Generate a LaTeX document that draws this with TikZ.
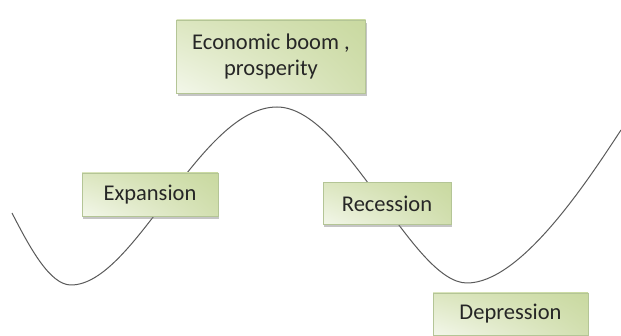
\documentclass[tikz,border=0pt]{standalone}
\usepackage{fontspec}
\setmainfont{Carlito}
\usetikzlibrary{shadows,shadings}
\definecolor{boxUL}{HTML}{DCE6C0}
\definecolor{boxUR}{HTML}{C9D9A0}
\definecolor{boxLL}{HTML}{F3F7EA}
\definecolor{boxLR}{HTML}{D2DFB0}
\definecolor{boxborder}{HTML}{B4C596}
\definecolor{curvec}{HTML}{5A5A5A}
\definecolor{textc}{HTML}{262626}
\tikzset{
  phasebox/.style={draw=boxborder, line width=0.6pt, shade,
    upper left=boxUL, upper right=boxUR, lower left=boxLL, lower right=boxLR,
    drop shadow={shadow xshift=1pt, shadow yshift=-3pt, fill=black!50, opacity=0.45},
    font=\fontsize{22.5}{26}\selectfont, text=textc, align=center, inner sep=0pt},
  cyclecurve/.style={draw=curvec, line width=1pt}
}
\begin{document}
\begin{tikzpicture}[x=1pt,y=-1pt]
\fill[white] (0,0) rectangle (621,336);
\useasboundingbox (0,0) rectangle (621,336);
\clip (0,0) rectangle (621,336);
\path[cyclecurve] (12,213) .. controls (30,248) and (50,285) .. (71,285)
  .. controls (135,285) and (200,107) .. (277,107)
  .. controls (345,107) and (412,283) .. (467,283)
  .. controls (520,283) and (585,185) .. (621,130);
\node[phasebox, minimum width=189pt, minimum height=73pt] (boom) at (271,56.5) {Economic boom ,\\prosperity};
\node[phasebox, minimum width=136pt, minimum height=43pt] (exp) at (150,194.5) {Expansion};
\node[phasebox, minimum width=128pt, minimum height=42pt] (rec) at (387,203.5) {Recession};
\node[phasebox, minimum width=155pt, minimum height=42pt] (dep) at (510.5,314) {Depression};
\end{tikzpicture}
\end{document}
